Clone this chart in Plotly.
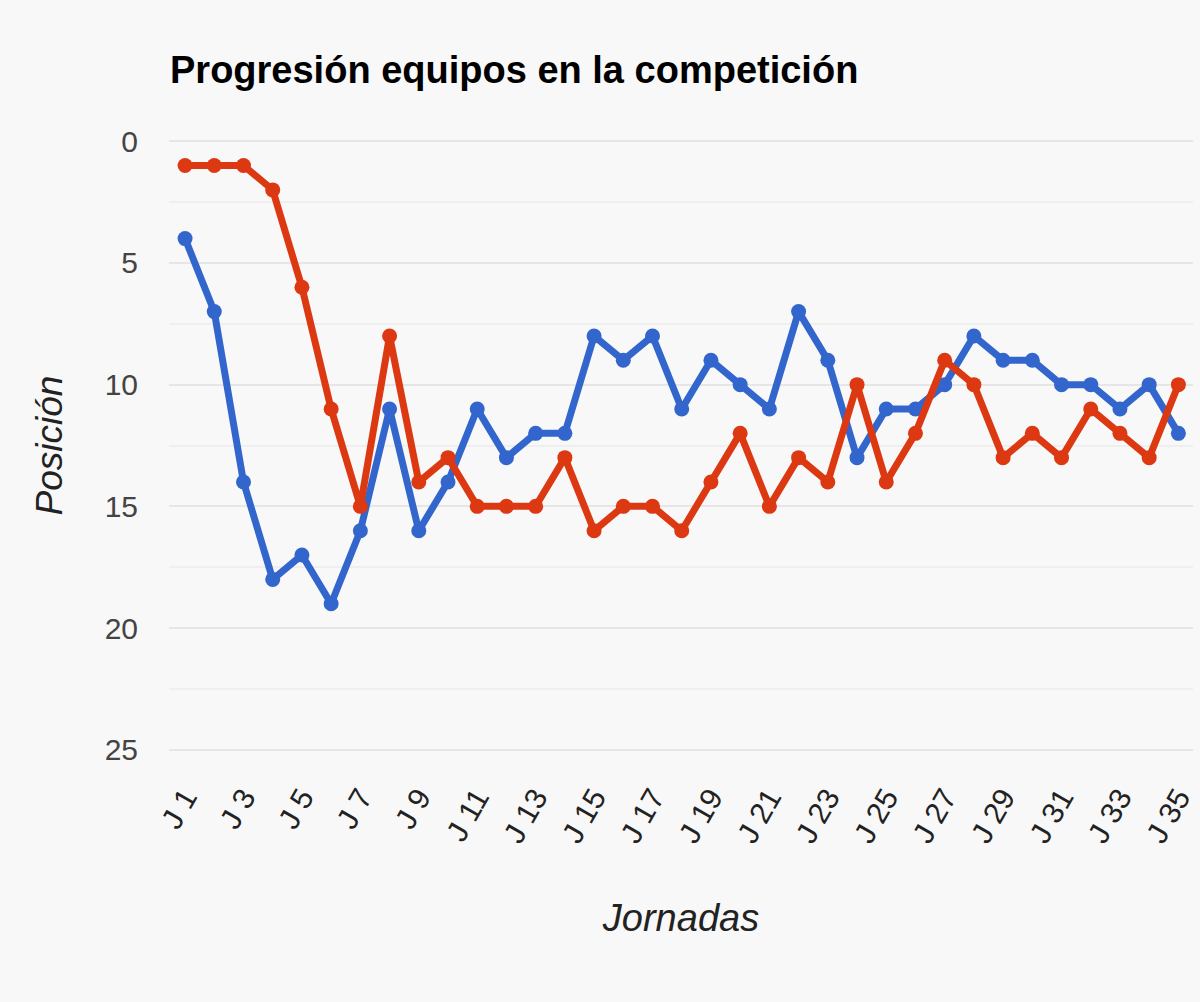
import plotly.graph_objects as go

jornadas = [f"J {i}" for i in range(1, 36)]
equipo_azul = [4, 7, 14, 18, 17, 19, 16, 11, 16, 14, 11, 13, 12, 12, 8, 9, 8, 11, 9, 10,
               11, 7, 9, 13, 11, 11, 10, 8, 9, 9, 10, 10, 11, 10, 12]
equipo_rojo = [1, 1, 1, 2, 6, 11, 15, 8, 14, 13, 15, 15, 15, 13, 16, 15, 15, 16, 14, 12,
               15, 13, 14, 10, 14, 12, 9, 10, 13, 12, 13, 11, 12, 13, 10]
y_ticks = [0, 5, 10, 15, 20, 25]

fig = go.Figure()
fig.add_trace(go.Scatter(x=jornadas, y=equipo_azul, mode="lines+markers", name="Equipo 1",
                         line=dict(color="#3366cc", width=7), marker=dict(size=15, color="#3366cc")))
fig.add_trace(go.Scatter(x=jornadas, y=equipo_rojo, mode="lines+markers", name="Equipo 2",
                         line=dict(color="#dc3912", width=7), marker=dict(size=15, color="#dc3912")))

fig.update_layout(
    width=1200, height=1002,
    paper_bgcolor="#f8f8f8", plot_bgcolor="#f8f8f8",
    margin=dict(l=169, r=3, t=140, b=251),
    showlegend=False,
    font=dict(family="Arial, Liberation Sans, sans-serif", color="#444444"),
    title=dict(text="<b>Progresión equipos en la competición</b>", xref="container", yref="container",
               x=170/1200, xanchor="left", y=1 - 70/1002, yanchor="middle",
               font=dict(size=38, color="#000000")),
    xaxis=dict(type="category", tickvals=jornadas[::2], ticktext=jornadas[::2], tickangle=-60,
               tickfont=dict(size=30, color="#222222"), showgrid=False, zeroline=False,
               range=[-0.55, 34.5], ticklabelstandoff=22,
               title=dict(text="<i>Jornadas</i>", font=dict(size=38, color="#222222"), standoff=56)),
    yaxis=dict(range=[25.05, -0.05], tickvals=y_ticks, tickfont=dict(size=30, color="#444444"),
               gridcolor="#e6e6e6", gridwidth=2, zeroline=False, ticklabelstandoff=30,
               minor=dict(dtick=2.5, showgrid=True, gridcolor="#efefef", gridwidth=2, tick0=0),
               title=dict(text="<i>Posición</i>", font=dict(size=37, color="#222222"), standoff=30)),
)

fig.write_html("out.html")
